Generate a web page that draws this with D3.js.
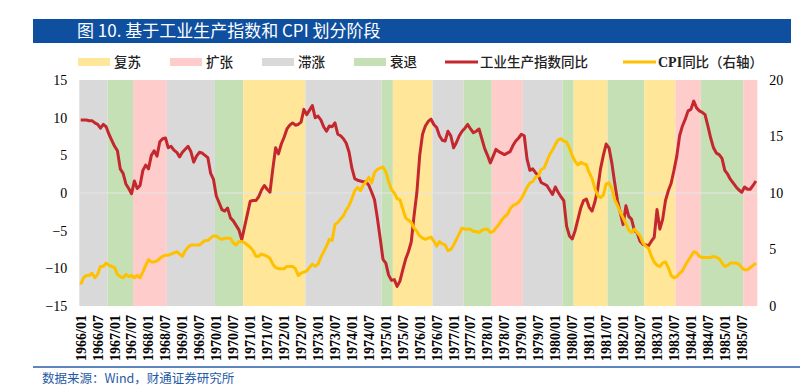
<!DOCTYPE html>
<html>
<head>
<meta charset="utf-8">
<script src="https://cdn.jsdelivr.net/npm/d3@7"></script>
<style>
  body { margin: 0; background: #fff; }
  svg { display: block; }
</style>
</head>
<body>
<div id="chart"></div>
<script>
// 工业生产指数同比 (左轴, %), 1966/01 - 1985/12 月度
const ipYoy = [
  9.7, 9.7, 9.7, 9.6, 9.6, 9.3, 9.1, 8.6, 9.1, 8.8, 7.8, 7.0,
  6.2, 5.6, 3.2, 2.6, 1.2, 0.6, -0.1, 1.6, 0.6, 1.0, 3.0, 3.7,
  3.2, 5.0, 5.6, 4.9, 6.8, 7.2, 7.3, 6.0, 6.2, 5.7, 5.4, 4.8,
  5.4, 5.8, 6.2, 5.5, 4.1, 4.9, 5.4, 5.3, 5.0, 4.7, 2.6, 1.8,
  -0.4, -1.3, -2.2, -2.4, -2.0, -3.3, -3.7, -4.3, -4.9, -6.2, -4.5, -2.8,
  -1.1, -1.0, -1.0, -0.5, 0.4, 1.0, 0.5, 0.1, 3.2, 6.0, 5.2, 6.5,
  7.4, 8.5, 9.0, 9.3, 9.0, 9.1, 9.4, 11.1, 10.4, 11.0, 11.6, 10.0,
  10.2, 9.7, 8.8, 8.2, 8.9, 8.8, 9.3, 7.8, 7.6, 7.2, 6.6, 5.4,
  3.3, 1.9, 1.7, 1.6, 1.5, 1.5, 1.0, 0.1, -0.9, -3.3, -6.0, -8.8,
  -9.3, -10.9, -11.6, -11.5, -12.4, -11.7, -10.2, -8.8, -7.8, -6.5, -3.0, 0.1,
  5.0, 7.8, 8.9, 9.5, 9.8, 9.1, 8.7, 7.6, 7.0, 6.9, 8.2, 7.6,
  6.0, 6.7, 7.6, 8.2, 8.6, 9.1, 8.5, 8.0, 8.2, 8.5, 7.2, 5.9,
  5.0, 4.0, 4.9, 5.8, 5.5, 5.3, 5.1, 5.3, 5.5, 6.3, 6.9, 7.3,
  7.8, 7.6, 4.5, 3.0, 3.2, 2.7, 2.3, 1.4, 1.2, 1.0, 0.4, -0.2,
  0.8, 0.1, -0.5, -1.0, -4.4, -5.7, -6.1, -5.0, -3.5, -2.0, -1.0, -0.8,
  -1.9, -2.4, -1.2, 0.5, 3.2, 5.0, 6.5, 6.0, 4.0, 1.4, -1.0, -2.6,
  -4.2, -1.7, -3.1, -3.5, -5.0, -5.3, -6.4, -6.8, -6.9, -7.0, -6.4, -5.9,
  -2.2, -4.8, -3.5, -1.0, 0.3, 1.3, 3.0, 4.9, 7.6, 8.9, 9.8, 10.9,
  11.1, 12.2, 11.3, 10.9, 10.7, 10.4, 8.9, 7.3, 6.0, 5.3, 5.1, 4.6,
  3.0, 2.5, 1.8, 1.3, 0.8, 0.4, 0.1, 0.8, 0.5, 0.5, 1.0, 1.6
];

// CPI同比 (右轴, %)
const cpiYoy = [
  1.9, 2.5, 2.7, 2.7, 2.9, 2.5, 2.8, 3.5, 3.5, 3.8, 3.6, 3.5,
  3.4, 2.8, 2.6, 2.5, 2.8, 2.6, 2.7, 2.5, 2.7, 2.5, 3.0, 3.6,
  4.1, 3.9, 3.9, 4.0, 4.2, 4.4, 4.5, 4.5, 4.6, 4.7, 4.8, 4.6,
  4.4, 4.9, 5.2, 5.4, 5.4, 5.4, 5.4, 5.6, 5.8, 5.8, 6.0, 6.2,
  6.2, 6.0, 5.9, 6.0, 6.0, 6.0, 5.6, 5.4, 5.7, 5.7, 5.6, 5.4,
  5.2, 4.9, 4.4, 4.4, 4.6, 4.5, 4.4, 4.2, 3.7, 3.4, 3.3, 3.3,
  3.3, 3.5, 3.5, 3.5, 3.3, 2.7, 2.9, 3.0, 3.1, 3.4, 3.7, 3.5,
  3.7, 4.3, 4.8, 5.3, 5.9, 5.8, 7.2, 7.4, 7.7, 8.0, 8.5, 8.9,
  9.5, 10.2, 10.5, 10.2, 10.7, 11.0, 11.4, 10.9, 11.8, 12.1, 12.2, 12.3,
  11.9, 11.0, 10.3, 10.0, 9.5, 9.4, 8.6, 7.8, 7.6, 7.4, 6.9, 6.6,
  6.2, 6.0, 5.9, 6.0, 6.1, 5.75, 5.3, 5.7, 5.5, 5.4, 4.9, 5.0,
  5.4, 5.9, 6.4, 6.9, 6.8, 6.8, 6.8, 6.6, 6.6, 6.5, 6.7, 6.8,
  6.8, 6.5, 6.6, 6.9, 7.2, 7.6, 7.9, 8.1, 8.6, 8.9, 9.0, 9.2,
  9.5, 10.0, 10.5, 10.9, 11.0, 11.4, 11.5, 12.1, 12.2, 12.8, 13.4, 13.8,
  14.3, 14.7, 14.8, 14.6, 14.5, 14.0, 13.3, 12.8, 12.5, 12.7, 12.6, 12.5,
  11.8, 11.3, 10.4, 9.8, 9.6, 9.8, 10.8, 10.9, 10.4, 9.4, 8.9, 8.3,
  7.8, 7.3, 6.7, 6.5, 6.8, 6.5, 6.2, 5.6, 5.3, 5.1, 4.4, 3.9,
  3.6, 3.5, 3.8, 3.9, 3.4, 2.7, 2.5, 2.6, 2.9, 3.1, 3.6, 4.0,
  4.4, 4.8, 4.7, 4.4, 4.3, 4.3, 4.3, 4.3, 4.4, 4.3, 4.2, 3.8,
  3.5, 3.6, 3.8, 3.8, 3.8, 3.7, 3.4, 3.2, 3.2, 3.4, 3.6, 3.8
];

// 阶段划分: 起始月份与阶段
const phaseStarts = ['1966/01', '1966/11', '1967/08', '1968/08', '1970/01', '1970/11',
  '1972/09', '1974/12', '1975/04', '1976/06', '1977/05', '1978/03', '1979/02',
  '1980/04', '1980/08', '1981/08', '1982/09', '1983/08', '1984/05', '1985/08'];
const phaseTypes = ['滞涨', '衰退', '扩张', '滞涨', '衰退', '复苏',
  '滞涨', '衰退', '复苏', '滞涨', '衰退', '扩张', '滞涨',
  '衰退', '复苏', '衰退', '复苏', '扩张', '衰退', '扩张'];

const phaseNames = ['复苏', '扩张', '滞涨', '衰退'];
const phaseColors = { '复苏': '#ffe699', '扩张': '#ffcccc', '滞涨': '#d9d9d9', '衰退': '#c5e0b4' };

const leftTicks = [-15, -10, -5, 0, 5, 10, 15];
const rightTicks = [0, 5, 10, 15, 20];

// month categories
const months = [];
for (let y = 1966; y <= 1985; y++) {
  for (let m = 1; m <= 12; m++) months.push(`${y}/${String(m).padStart(2, '0')}`);
}
const tickMonths = months.filter((d, i) => i % 6 === 0);

const W = 809, H = 387;
const plot = { left: 79.3, right: 757.3, top: 80, bottom: 306 };

const svg = d3.select('#chart').append('svg')
  .attr('width', W)
  .attr('height', H);

// Title bar
svg.append('rect')
  .attr('x', 33).attr('y', 19).attr('width', 758).attr('height', 24)
  .attr('fill', '#0f4f9f');
svg.append('text')
  .attr('x', 77).attr('y', 37)
  .attr('fill', '#fff')
  .attr('font-family', '"Noto Sans CJK SC", "Noto Sans", sans-serif')
  .attr('font-size', 17)
  .text('图 10. 基于工业生产指数和 CPI 划分阶段');

// Scales
const x = d3.scaleBand().domain(months).range([plot.left, plot.right]).padding(0);
const yL = d3.scaleLinear().domain([-15, 15]).range([plot.bottom, plot.top]);
const yR = d3.scaleLinear().domain([0, 20]).range([plot.bottom, plot.top]);
const cx = (d) => x(d) + x.bandwidth() / 2;

// Phase bands
const bands = phaseStarts.map((s, i) => ({
  type: phaseTypes[i],
  x0: x(s),
  x1: i + 1 < phaseStarts.length ? x(phaseStarts[i + 1]) : plot.right
}));
svg.append('g').selectAll('rect')
  .data(bands)
  .enter()
  .append('rect')
  .attr('x', (d) => d.x0)
  .attr('y', plot.top)
  .attr('width', (d) => d.x1 - d.x0)
  .attr('height', plot.bottom - plot.top)
  .attr('fill', (d) => phaseColors[d.type]);

// zero gridline
svg.append('line')
  .attr('x1', plot.left).attr('x2', plot.right)
  .attr('y1', yL(0)).attr('y2', yL(0))
  .attr('stroke', '#e6e6e6')
  .attr('stroke-width', 1);

// Axes
const axisFont = '"Liberation Serif", "Times New Roman", serif';

const leftAxis = svg.append('g')
  .attr('transform', `translate(${plot.left - 8},0)`)
  .call(d3.axisLeft(yL).tickValues(leftTicks).tickSize(0).tickPadding(4));
leftAxis.select('.domain').remove();
leftAxis.selectAll('text')
  .attr('font-family', axisFont)
  .attr('font-size', 14)
  .attr('fill', '#000');

const rightAxis = svg.append('g')
  .attr('transform', `translate(${plot.right + 8},0)`)
  .call(d3.axisRight(yR).tickValues(rightTicks).tickSize(0).tickPadding(4));
rightAxis.select('.domain').remove();
rightAxis.selectAll('text')
  .attr('font-family', axisFont)
  .attr('font-size', 14)
  .attr('fill', '#000');

const bottomAxis = svg.append('g')
  .attr('transform', `translate(0,${plot.bottom})`)
  .call(d3.axisBottom(x).tickValues(tickMonths).tickSize(0).tickPadding(0));
bottomAxis.select('.domain').remove();
bottomAxis.selectAll('text')
  .attr('font-family', axisFont)
  .attr('font-size', 14)
  .attr('font-weight', 'bold')
  .attr('fill', '#000')
  .attr('text-anchor', 'end')
  .attr('transform', 'translate(0,9) rotate(-90)')
  .attr('x', 0)
  .attr('y', 0)
  .attr('dy', '0.35em');

// Lines
const ipLine = d3.line()
  .x((d, i) => cx(months[i]))
  .y((d) => yL(d));
const cpiLine = d3.line()
  .x((d, i) => cx(months[i]))
  .y((d) => yR(d));

svg.append('path')
  .datum(ipYoy)
  .attr('fill', 'none')
  .attr('stroke', '#c4282e')
  .attr('stroke-width', 3)
  .attr('stroke-linejoin', 'round')
  .attr('d', ipLine);

svg.append('path')
  .datum(cpiYoy)
  .attr('fill', 'none')
  .attr('stroke', '#ffc000')
  .attr('stroke-width', 3)
  .attr('stroke-linejoin', 'round')
  .attr('d', cpiLine);

// Legend
const legendFont = '"Liberation Serif", "Noto Sans CJK SC", serif';
const legendY = 62;
const legend = svg.append('g');
const boxX = [78, 170, 262, 354];
phaseNames.forEach((name, i) => {
  legend.append('rect')
    .attr('x', boxX[i]).attr('y', legendY - 4)
    .attr('width', 32).attr('height', 8)
    .attr('fill', phaseColors[name]);
  legend.append('text')
    .attr('x', boxX[i] + 36).attr('y', legendY)
    .attr('dy', '0.35em')
    .attr('font-family', legendFont)
    .attr('font-size', 13.5)
    .attr('font-weight', 500)
    .attr('fill', '#222')
    .text(name);
});
const lineItems = [
  { x: 445, color: '#c4282e', latin: '', label: '工业生产指数同比' },
  { x: 623, color: '#ffc000', latin: 'CPI', label: '同比（右轴）' }
];
lineItems.forEach((d) => {
  legend.append('line')
    .attr('x1', d.x).attr('x2', d.x + 33)
    .attr('y1', legendY).attr('y2', legendY)
    .attr('stroke', d.color)
    .attr('stroke-width', 3);
  const t = legend.append('text')
    .attr('x', d.x + 35).attr('y', legendY)
    .attr('dy', '0.35em')
    .attr('font-family', legendFont)
    .attr('font-size', 13.5)
    .attr('font-weight', 500)
    .attr('fill', '#222');
  if (d.latin) {
    t.append('tspan').attr('font-weight', 'bold').attr('font-size', 14).text(d.latin);
  }
  t.append('tspan').text(d.label);
});

// Footer
svg.append('line')
  .attr('x1', 33).attr('x2', 800)
  .attr('y1', 367).attr('y2', 367)
  .attr('stroke', '#2a5caa')
  .attr('stroke-width', 1.5);
svg.append('text')
  .attr('x', 42).attr('y', 379)
  .attr('dy', '0.35em')
  .attr('font-family', '"Noto Sans CJK SC", sans-serif')
  .attr('font-size', 12.5)
  .attr('fill', '#1f5aa6')
  .text('数据来源：Wind，财通证券研究所');
</script>
</body>
</html>
